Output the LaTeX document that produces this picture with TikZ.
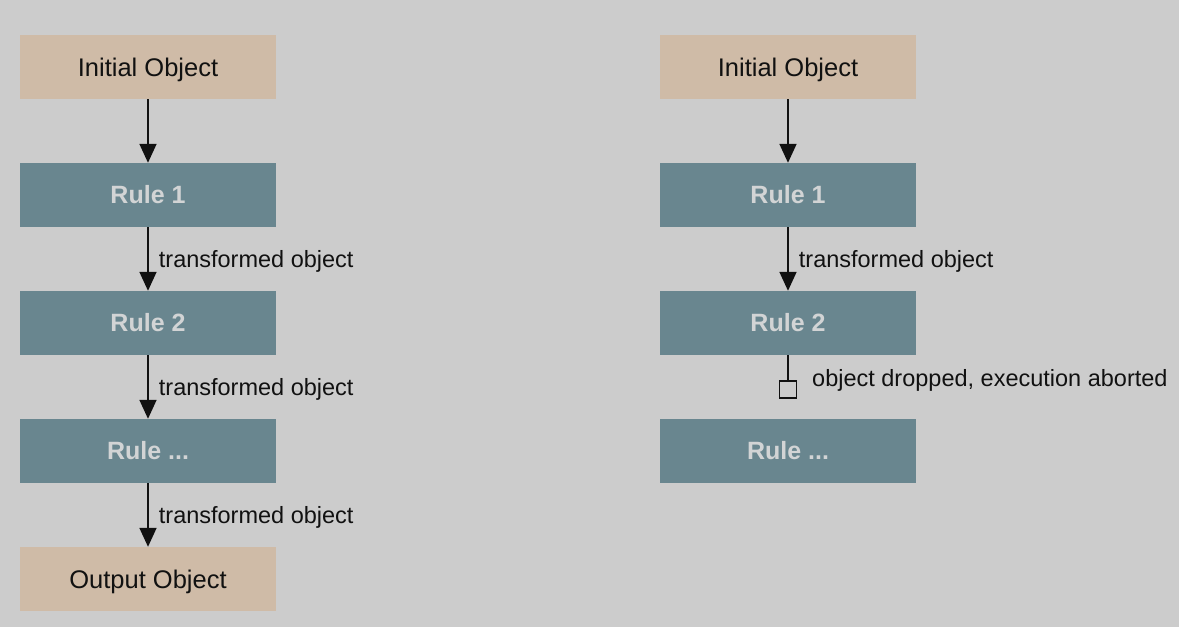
\documentclass[tikz,border=0pt]{standalone}
\usepackage{fontspec}
\setmainfont{Liberation Sans}
\usetikzlibrary{arrows.meta}
\definecolor{bg}{HTML}{CCCCCC}
\definecolor{beige}{HTML}{CFBBA7}
\definecolor{teal}{HTML}{69868F}
\definecolor{ruletext}{HTML}{D2D4D5}
\definecolor{ink}{HTML}{111111}
\tikzset{
  objbox/.style={fill=beige, draw=none, minimum width=256pt, minimum height=64pt, inner sep=0pt, text=ink, text height=18.3pt, text depth=0pt, font=\fontsize{25.5}{30}\selectfont},
  rulebox/.style={fill=teal, draw=none, minimum width=256pt, minimum height=64pt, inner sep=0pt, text=ruletext, text height=17.9pt, text depth=0pt, font=\bfseries\fontsize{25}{30}\selectfont},
  flow/.style={draw=ink, line width=1.8pt, -{Triangle[length=19pt,width=17pt]}},
  lbl/.style={text=ink, font=\fontsize{23.5}{28}\selectfont, anchor=west, inner sep=0pt, text height=16.8pt, text depth=0pt},
  stopbox/.style={draw=ink, line width=1.8pt, fill=bg, minimum width=17pt, minimum height=17pt, inner sep=0pt}
}
\begin{document}
\begin{tikzpicture}[x=1pt,y=-1pt]
\fill[bg] (0,0) rectangle (1179,627);
\useasboundingbox (0,0) rectangle (1179,627);
% left column
\node[objbox]  (a0) at (148,67)  {Initial Object};
\node[rulebox] (a1) at (148,195) {Rule 1};
\node[rulebox] (a2) at (148,323) {Rule 2};
\node[rulebox] (a3) at (148,451) {Rule ...};
\node[objbox]  (a4) at (148,579) {Output Object};
\draw[flow] (a0.south) -- (a1.north);
\draw[flow] (a1.south) -- (a2.north) node[lbl, pos=0.5, xshift=10pt] (la1) {transformed object};
\draw[flow] (a2.south) -- (a3.north) node[lbl, pos=0.5, xshift=10pt] (la2) {transformed object};
\draw[flow] (a3.south) -- (a4.north) node[lbl, pos=0.5, xshift=10pt] (la3) {transformed object};
% right column
\node[objbox]  (b0) at (788,67)  {Initial Object};
\node[rulebox] (b1) at (788,195) {Rule 1};
\node[rulebox] (b2) at (788,323) {Rule 2};
\node[rulebox] (b3) at (788,451) {Rule ...};
\draw[flow] (b0.south) -- (b1.north);
\draw[flow] (b1.south) -- (b2.north) node[lbl, pos=0.5, xshift=10pt] (lb1) {transformed object};
\node[stopbox] (stop) at (788,389.5) {};
\draw[draw=ink, line width=1.8pt] (b2.south) -- (stop.north);
\node[lbl] (lb2) at (812,378) {object dropped, execution aborted};
\end{tikzpicture}
\end{document}
